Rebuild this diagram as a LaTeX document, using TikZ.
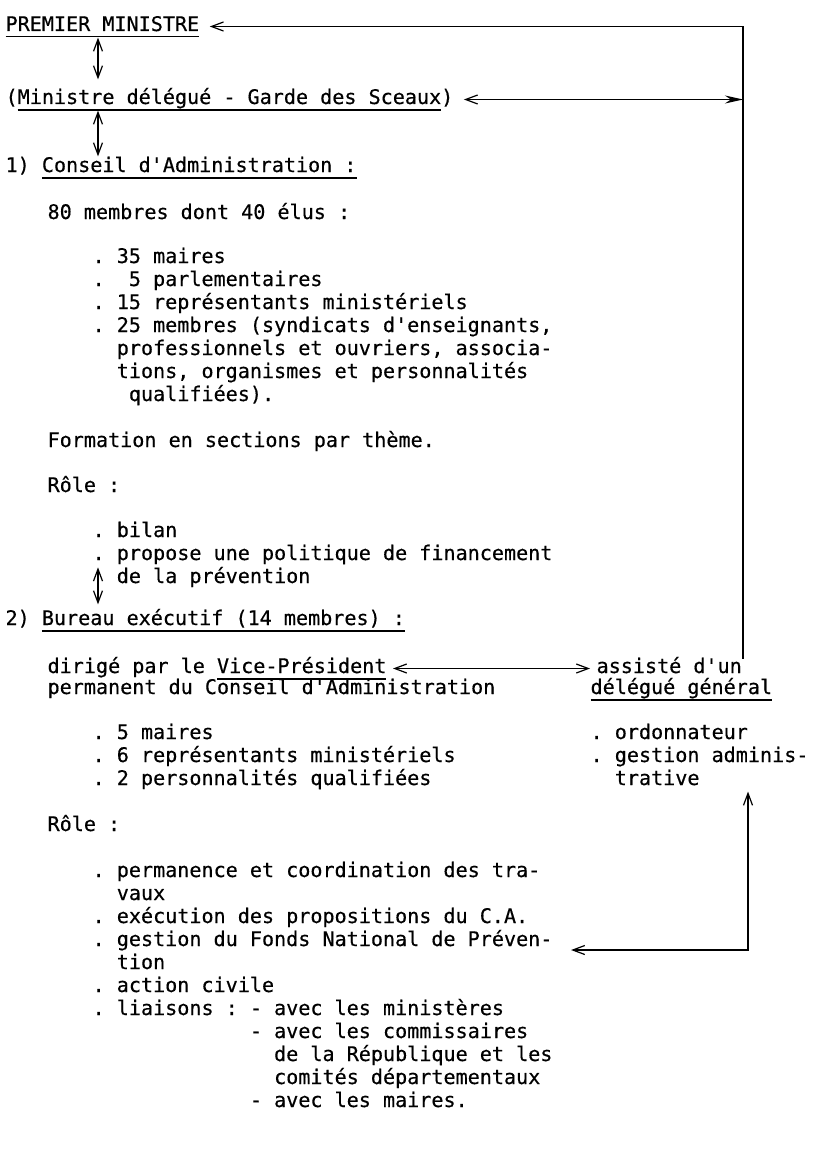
\documentclass[tikz,border=0pt]{standalone}
\usepackage{fontspec}
\setmonofont[FakeBold = 0.5]{DejaVu Sans Mono}
\usetikzlibrary{arrows.meta}

% souligne un morceau de texte
\newcommand\souligne[1]{\setbox0\hbox{#1}\rlap{\rule[-6.5pt]{\wd0}{1.1pt}}\box0}

\begin{document}
\begin{tikzpicture}[x = 1pt, y = -1pt, line width = 1.2pt,
    every node/.style = {font = \ttfamily\fontsize{20.1pt}{23pt}\selectfont, inner sep = 0pt,
        anchor = base west, text height = 15pt, text depth = 6pt},
    > = {Straight Barb[length = 12pt, width = 9pt]}]
    \useasboundingbox (0, 0) rectangle (839, 1153);
    \coordinate (axe) at (743, 0);
    \coordinate (axebas) at (748, 0);
    \coordinate (fil) at (98, 0);

    % tutelle
    \node (pm) at (5, 31) {\souligne{PREMIER MINISTRE}};
    \node (mdg) at (5, 104) {(\souligne{Ministre délégué - Garde des Sceaux})};

    % conseil d'administration
    \node (ca) at (5, 172) {1) \souligne{Conseil d'Administration :}};
    \node (camb) at (47, 219) {80 membres dont 40 élus :};
    \foreach \t [count = \i from 0] in {{. 35 maires}, {.~~5 parlementaires},
        {. 15 représentants ministériels}, {. 25 membres (syndicats d'enseignants,},
        {~~professionnels et ouvriers, associa-}, {~~tions, organismes et personnalités},
        {~~~qualifiées).}}
        \node (cal-\i) at (92, 263 + 23*\i) {\t};
    \node (form) at (47, 447) {Formation en sections par thème.};
    \node (carole) at (47, 492) {Rôle :};
    \foreach \t [count = \i from 0] in {{. bilan}, {. propose une politique de financement},
        {~~de la prévention}}
        \node (car-\i) at (92, 537 + 23*\i) {\t};

    % bureau executif
    \node (be) at (5, 625) {2) \souligne{Bureau exécutif (14 membres) :}};
    \node (vp) at (47, 673) {dirigé par le \souligne{Vice-Président}};
    \node (vpb) at (47, 694) {permanent du Conseil d'Administration};
    \foreach \t [count = \i from 0] in {{. 5 maires}, {. 6 représentants ministériels},
        {. 2 personnalités qualifiées}}
        \node (bel-\i) at (92, 739 + 23*\i) {\t};
    \node (berole) at (47, 831) {Rôle :};
    \foreach \t [count = \i from 0] in {{. permanence et coordination des tra-}, {~~vaux},
        {. exécution des propositions du C.A.}, {. gestion du Fonds National de Préven-},
        {~~tion}, {. action civile}, {. liaisons : - avec les ministères},
        {~~~~~~~~~~~~~- avec les commissaires}, {~~~~~~~~~~~~~~~de la République et les},
        {~~~~~~~~~~~~~~~comités départementaux}, {~~~~~~~~~~~~~- avec les maires.}}
        \node (ber-\i) at (92, 877 + 23*\i) {\t};

    % delegue general
    \node (dg) at (596, 673) {assisté d'un};
    \node (dgb) at (590, 694) {\souligne{délégué général}};
    \foreach \t [count = \i from 0] in {{. ordonnateur}, {. gestion adminis-}, {~~trative}}
        \node (dgl-\i) at (590, 739 + 23*\i) {\t};

    % liaisons
    \draw [<->] (pm.south -| fil) -- ([yshift = 9pt]mdg.north -| fil);
    \draw [<->] (mdg.south -| fil) -- (ca.north -| fil);
    \draw [<->] (car-2.north -| fil) -- ([yshift = 5pt]be.north -| fil);
    \draw [<-] ([xshift = 10pt]pm.east) -| ([yshift = -2pt]dg.north -| axe);
    \draw [<-{Stealth[length = 18pt, width = 8pt]}] ([xshift = 10pt]mdg.east) -- (mdg.east -| axe);
    \draw [<->] ([xshift = 6pt]vp.east) -- ([xshift = -6pt]dg.west);
    \draw [<->] (dgl-2.south -| axebas) |- ([xshift = 18pt, yshift = -4pt]ber-3.base east);
\end{tikzpicture}
\end{document}
